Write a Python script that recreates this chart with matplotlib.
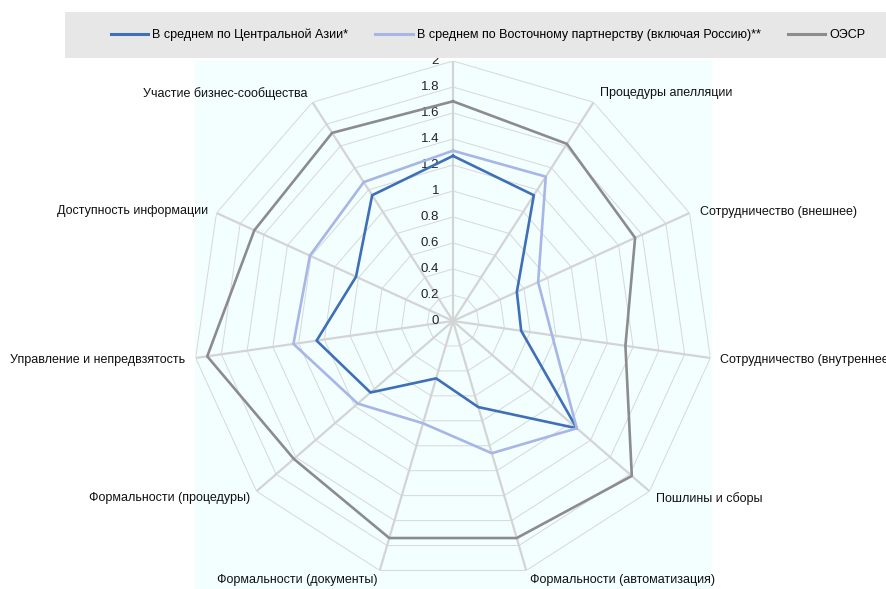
import numpy as np
import matplotlib
matplotlib.use("Agg")
import matplotlib.pyplot as plt
from matplotlib.patches import Rectangle

plt.rcParams['font.family'] = ['Liberation Sans', 'DejaVu Sans']

# ---- data (clockwise from top) ----
categories = [
    "Предварительные решения",
    "Процедуры апелляции",
    "Сотрудничество (внешнее)",
    "Сотрудничество (внутреннее)",
    "Пошлины и сборы",
    "Формальности (автоматизация)",
    "Формальности (документы)",
    "Формальности (процедуры)",
    "Управление и непредвзятость",
    "Доступность информации",
    "Участие бизнес-сообщества",
]
central_asia = [1.27, 1.15, 0.54, 0.53, 1.26, 0.69, 0.46, 0.84, 1.06, 0.82, 1.15]
eastern_partnership = [1.31, 1.32, 0.72, 0.77, 1.26, 1.06, 0.82, 0.97, 1.24, 1.21, 1.27]
oecd = [1.69, 1.62, 1.54, 1.34, 1.82, 1.74, 1.74, 1.62, 1.91, 1.68, 1.72]
series_names = ["В среднем по Центральной Азии*",
                "В среднем по Восточному партнерству (включая Россию)**",
                "ОЭСР"]
r_ticks = [0, 0.2, 0.4, 0.6, 0.8, 1.0, 1.2, 1.4, 1.6, 1.8, 2.0]
r_tick_labels = ["0", "0.2", "0.4", "0.6", "0.8", "1", "1.2", "1.4", "1.6", "1.8", "2"]

colors = ["#3F6FB6", "#A7B6E6", "#8C8C8C"]
grid_color = "#D9D9D9"
FS = 9

W, H = 887, 589
fig = plt.figure(figsize=(W / 100, H / 100), dpi=100)
fig.patch.set_facecolor("white")

# plot-area background (light cyan)
fig.patches.append(Rectangle((195 / W, 0), (712 - 195) / W, (H - 61) / H,
                             transform=fig.transFigure, facecolor="#F3FFFF",
                             edgecolor="none", zorder=-1))

cx, cy, R = 453, 321, 260
ax = fig.add_axes([(cx - R) / W, (H - cy - R) / H, 2 * R / W, 2 * R / H],
                  projection="polar")
ax.set_theta_zero_location("N")
ax.set_theta_direction(-1)
ax.set_ylim(0, 2)
ax.grid(False)
ax.spines["polar"].set_visible(False)
ax.set_xticks([])
ax.set_yticks([])
ax.patch.set_alpha(0)

n = len(categories)
theta = np.arange(n) * 2 * np.pi / n
theta_closed = np.append(theta, theta[0])

# polygon gridlines
for lev in r_ticks[1:]:
    ax.plot(theta_closed, [lev] * (n + 1), color=grid_color, lw=0.75, zorder=1)
# spokes
for t in theta:
    ax.plot([t, t], [0, 2], color="#D4D4D4", lw=1.6, zorder=1.5)

# radial tick labels
for v, lab in zip(r_ticks, r_tick_labels):
    ax.annotate(lab, xy=(0, v), xytext=(-10, 0), textcoords="offset points",
                ha="right", va="center", fontsize=FS + 0.5, color="#222222", zorder=2)

# series
for vals, col, name in zip([central_asia, eastern_partnership, oecd], colors, series_names):
    ax.plot(theta_closed, list(vals) + [vals[0]], color=col, lw=1.9, label=name, zorder=3)

# category labels (offsets in pixels: dx right, dy down); the top one is hidden
# behind the legend band in the original, so it is not drawn
label_offsets = [None, (6, -9, "left"), (10, -1, "left"), (10, 2, "left"),
                 (7, 7, "left"), (4, 10, "left"), (-2, 10, "right"), (-6, 7, "right"),
                 (-11, 2, "right"), (-8, -2, "right"), (-5, -9, "right")]
for t, lab, off in zip(theta, categories, label_offsets):
    if off is None:
        continue
    dx, dy, ha = off
    ax.annotate(lab, xy=(t, 2.0), xytext=(dx * 0.72, -dy * 0.72),
                textcoords="offset points", ha=ha, va="center",
                fontsize=FS, color="#111111", annotation_clip=False)

# legend box
fig.patches.append(Rectangle((65 / W, (H - 58) / H), (W - 65) / W, 46 / H,
                             transform=fig.transFigure, facecolor="#E7E7E7",
                             edgecolor="none", zorder=1))
handles, labels = ax.get_legend_handles_labels()
leg = fig.legend(handles, labels, loc="center", bbox_to_anchor=(488 / W, (H - 35) / H),
                 ncol=3, frameon=False, fontsize=FS, handlelength=3.0,
                 handletextpad=0.3, columnspacing=2.2)
for line in leg.get_lines():
    line.set_linewidth(2.2)

fig.savefig("out.png", dpi=100)
